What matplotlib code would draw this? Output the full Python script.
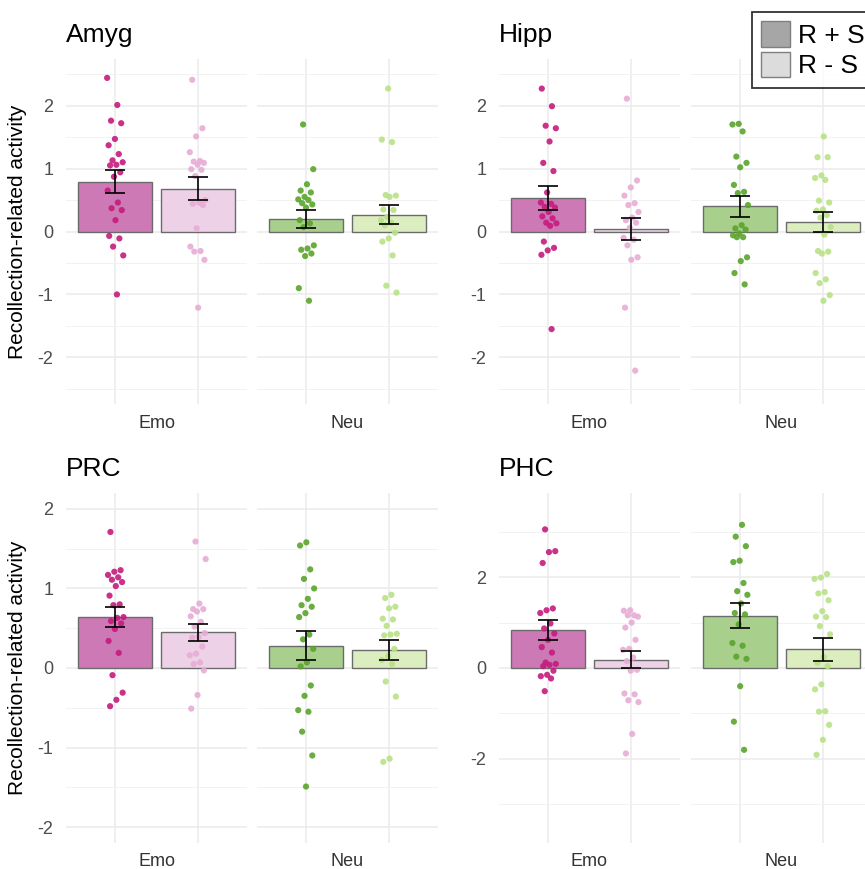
import numpy as np
import matplotlib.pyplot as plt

plt.rcParams['font.family'] = ['Liberation Sans', 'DejaVu Sans']

regions = ['Amyg', 'Hipp', 'PRC', 'PHC']
conditions = ['Emo', 'Neu']
series = ['R + S', 'R - S']

# individual subject values
amyg_emo_rs = [2.44, 2.01, 1.76, 1.72, 1.47, 1.37, 1.23, 1.13, 1.10, 1.06, 1.05, 0.94, 0.87,
               0.65, 0.46, 0.37, 0.34, 0.18, -0.07, -0.11, -0.24, -0.38, -1.0]
amyg_emo_rms = [2.41, 1.64, 1.51, 1.26, 1.12, 1.11, 1.09, 1.06, 0.99, 0.98, 0.88, 0.50, 0.46,
                0.44, 0.42, 0.05, -0.24, -0.31, -0.32, -0.45, -1.21]
amyg_neu_rs = [1.70, 0.99, 0.75, 0.65, 0.62, 0.55, 0.51, 0.50, 0.45, 0.43, 0.38, 0.18, 0.13,
               0.07, -0.22, -0.27, -0.29, -0.35, -0.39, -0.90, -1.10]
amyg_neu_rms = [2.27, 1.46, 1.42, 0.58, 0.57, 0.55, 0.35, 0.34, 0.23, 0.18, 0.14, 0.10, -0.02,
                -0.11, -0.16, -0.38, -0.86, -0.97]

hipp_emo_rs = [2.27, 1.99, 1.68, 1.64, 1.43, 1.09, 0.96, 0.62, 0.46, 0.44, 0.39, 0.38, 0.31,
               0.24, 0.21, 0.14, 0.13, 0.09, -0.16, -0.26, -0.30, -0.37, -1.55]
hipp_emo_rms = [2.11, 0.81, 0.70, 0.57, 0.45, 0.42, 0.31, 0.22, 0.18, 0.14, 0.06, -0.10, -0.13,
                -0.22, -0.41, -0.45, -1.21, -2.21]
hipp_neu_rs = [1.71, 1.70, 1.59, 1.19, 1.09, 1.02, 0.74, 0.63, 0.61, 0.42, 0.10, 0.05, 0.03,
               -0.03, -0.06, -0.09, -0.09, -0.41, -0.47, -0.66, -0.84]
hipp_neu_rms = [1.51, 1.18, 1.18, 0.89, 0.85, 0.82, 0.49, 0.46, 0.35, 0.33, 0.26, 0.22, 0.07,
                -0.05, -0.31, -0.32, -0.35, -0.66, -0.76, -0.82, -1.01, -1.10]

prc_emo_rs = [1.71, 1.23, 1.21, 1.17, 1.14, 1.11, 1.08, 1.03, 0.91, 0.80, 0.79, 0.64, 0.63,
              0.59, 0.56, 0.49, 0.34, 0.19, -0.09, -0.31, -0.40, -0.48]
prc_emo_rms = [1.59, 1.37, 0.81, 0.74, 0.74, 0.71, 0.65, 0.58, 0.52, 0.44, 0.39, 0.38, 0.27,
               0.18, 0.16, 0.07, 0.05, -0.03, -0.34, -0.51]
prc_neu_rs = [1.58, 1.54, 1.24, 1.12, 1.00, 0.87, 0.79, 0.77, 0.69, 0.64, 0.42, 0.36, 0.24,
              0.07, 0.02, -0.22, -0.35, -0.53, -0.55, -0.80, -1.10, -1.49]
prc_neu_rms = [0.92, 0.88, 0.77, 0.75, 0.62, 0.61, 0.53, 0.43, 0.42, 0.41, 0.24, 0.15, 0.10,
               0.05, -0.17, -0.36, -1.14, -1.18]

phc_emo_rs = [3.05, 2.57, 2.55, 2.31, 1.31, 1.27, 1.21, 0.98, 0.87, 0.76, 0.62, 0.46, 0.34,
              0.12, 0.09, 0.07, 0.04, -0.06, -0.15, -0.18, -0.23, -0.51]
phc_emo_rms = [1.27, 1.26, 1.16, 1.16, 1.13, 1.00, 0.89, 0.62, 0.42, 0.40, 0.23, 0.15, -0.04,
               -0.06, -0.56, -0.58, -0.71, -0.75, -1.45, -1.88]
phc_neu_rs = [3.15, 2.89, 2.68, 2.36, 2.33, 1.87, 1.69, 1.61, 1.42, 1.21, 1.18, 0.96, 0.55,
              0.49, 0.25, 0.20, -0.40, -1.18, -1.80]
phc_neu_rms = [2.07, 1.99, 1.96, 1.67, 1.64, 1.49, 1.25, 1.13, 1.12, 0.92, 0.74, 0.24, 0.11,
               0.04, -0.36, -0.47, -0.95, -0.96, -1.25, -1.58, -1.91]

# bar means and standard errors, [Emo R+S, Emo R-S, Neu R+S, Neu R-S]
amyg_mean = [0.79, 0.68, 0.20, 0.27]
amyg_se = [0.185, 0.18, 0.14, 0.155]
hipp_mean = [0.53, 0.04, 0.40, 0.15]
hipp_se = [0.19, 0.175, 0.165, 0.165]
prc_mean = [0.64, 0.45, 0.28, 0.23]
prc_se = [0.125, 0.105, 0.18, 0.125]
phc_mean = [0.84, 0.18, 1.15, 0.41]
phc_se = [0.215, 0.19, 0.27, 0.26]

points = {
    'Amyg': [[amyg_emo_rs, amyg_emo_rms], [amyg_neu_rs, amyg_neu_rms]],
    'Hipp': [[hipp_emo_rs, hipp_emo_rms], [hipp_neu_rs, hipp_neu_rms]],
    'PRC': [[prc_emo_rs, prc_emo_rms], [prc_neu_rs, prc_neu_rms]],
    'PHC': [[phc_emo_rs, phc_emo_rms], [phc_neu_rs, phc_neu_rms]],
}
means = {'Amyg': amyg_mean, 'Hipp': hipp_mean, 'PRC': prc_mean, 'PHC': phc_mean}
ses = {'Amyg': amyg_se, 'Hipp': hipp_se, 'PRC': prc_se, 'PHC': phc_se}

ylims = {'Amyg': 2.74, 'Hipp': 2.74, 'PRC': 2.2, 'PHC': 3.85}
ymajor = {'Amyg': [-2, -1, 0, 1, 2], 'Hipp': [-2, -1, 0, 1, 2],
          'PRC': [-2, -1, 0, 1, 2], 'PHC': [-2, 0, 2]}
yminor = {'Amyg': [-2.5, -1.5, -0.5, 0.5, 1.5, 2.5], 'Hipp': [-2.5, -1.5, -0.5, 0.5, 1.5, 2.5],
          'PRC': [-1.5, -0.5, 0.5, 1.5], 'PHC': [-3, -1, 1, 3]}

point_cols = [['#c51b7d', '#e8acd6'], ['#5aa42c', '#b8e186']]
bar_cols = [['#cd79b5', '#ecd1e7'], ['#a9cf8d', '#dcedbf']]

W, H = 865, 869
fig = plt.figure(figsize=(W / 100, H / 100), dpi=100)


def px_axes(left, top, right, bottom):
    return fig.add_axes([left / W, 1 - bottom / H, (right - left) / W, (bottom - top) / H])


panel_x = [(66, 247, 257, 438), (499, 680, 691, 872)]
panel_y = [(59, 404), (493, 843)]

for k, reg in enumerate(regions):
    row, col = divmod(k, 2)
    top, bottom = panel_y[row]
    xs = panel_x[col]
    for c in range(2):
        ax = px_axes(xs[2 * c], top, xs[2 * c + 1], bottom)
        m = means[reg][2 * c:2 * c + 2]
        s = ses[reg][2 * c:2 * c + 2]
        ax.bar([1, 2], m, width=0.9, color=bar_cols[c], edgecolor='#6b6b6b', linewidth=1, zorder=2)
        for j in range(2):
            vals = np.array(points[reg][c][j])
            n = len(vals)
            jit = ((np.arange(n) * 0.618034 + 0.3 * c + 0.17 * j + 0.1 * k) % 1 - 0.5) * 0.2
            ax.scatter(j + 1 + jit, vals, s=20, color=point_cols[c][j], edgecolors='none',
                       alpha=0.9, zorder=3)
        ax.errorbar([1, 2], m, yerr=s, fmt='none', ecolor='black', elinewidth=1.2,
                    capsize=7.5, capthick=1.2, zorder=4)
        ax.set_xlim(0.4, 2.6)
        ax.set_ylim(-ylims[reg], ylims[reg])
        ax.set_xticks([1, 2])
        ax.set_xticklabels([])
        ax.set_yticks(ymajor[reg])
        ax.set_yticks(yminor[reg], minor=True)
        ax.grid(True, which='major', color='#ebebeb', linewidth=1.1, zorder=0)
        ax.grid(True, which='minor', axis='y', color='#f2f2f2', linewidth=0.7, zorder=0)
        ax.set_axisbelow(True)
        for sp in ax.spines.values():
            sp.set_visible(False)
        ax.tick_params(length=0, which='both', labelsize=13, labelcolor='#4d4d4d', pad=9)
        if c == 1:
            ax.set_yticklabels([])
        else:
            ax.set_yticklabels([str(v) for v in ymajor[reg]])
        fig.text((xs[2 * c] + xs[2 * c + 1]) / 2 / W, 1 - (bottom + 19) / H, conditions[c],
                 ha='center', va='center', fontsize=13, color='#333333')
    fig.text(xs[0] / W, 1 - (top - 24) / H, reg, ha='left', va='center', fontsize=19)
    if col == 0:
        fig.text(18 / W, 1 - (top + bottom) / 2 / H, 'Recollection-related activity',
                 rotation=90, ha='center', va='center', fontsize=15)

# legend (grey keys)
handles = [plt.Rectangle((0, 0), 1, 1, facecolor='#a6a6a6', edgecolor='#7f7f7f'),
           plt.Rectangle((0, 0), 1, 1, facecolor='#dcdcdc', edgecolor='#7f7f7f')]
leg = fig.legend(handles, series, loc='upper left', bbox_to_anchor=(752 / W, 1 - 12 / H),
                 fontsize=19, frameon=True, fancybox=False, handlelength=1.1, handleheight=1.1,
                 handletextpad=0.3, labelspacing=0.15, borderpad=0.35, borderaxespad=0)
leg.get_frame().set_edgecolor('black')
leg.get_frame().set_linewidth(1.3)

fig.savefig('out.png', dpi=100)
